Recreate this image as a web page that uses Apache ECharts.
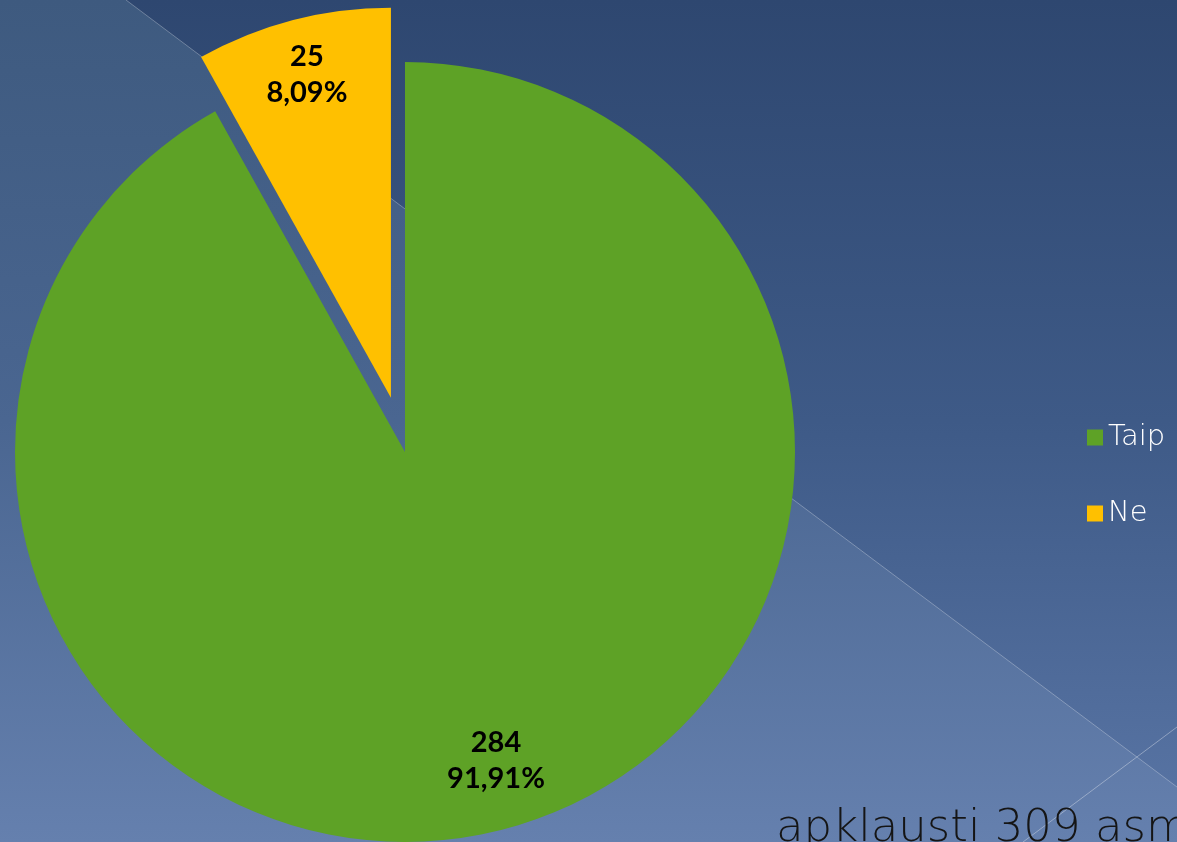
<!DOCTYPE html>
<html>
<head>
<meta charset="utf-8">
<script src="https://cdn.jsdelivr.net/npm/echarts@6/dist/echarts.min.js"></script>
<style>
html,body{margin:0;padding:0;background:#3a5580;}
#chart{width:1177px;height:842px;}
</style>
</head>
<body>
<div id="chart"></div>
<script>
const categories = ['Taip', 'Ne'];
const values = [284, 25];
const colors = ['#5ea226', '#ffc000'];
const footnote = 'apklausti 309 asmenys';

const chart = echarts.init(document.getElementById('chart'), null, {renderer: 'canvas'});
const W = 1177, H = 842;
const data = categories.map((c, i) => ({
  name: c, value: values[i], selected: c === 'Ne',
  itemStyle: {color: colors[i]}
}));
const labelData = categories.map((c, i) => ({
  name: c, value: values[i], selected: c === 'Ne',
  itemStyle: {color: 'rgba(0,0,0,0)'}
}));

const option = {
  animation: false,
  backgroundColor: 'transparent',
  graphic: [
    {type: 'rect', z: -10, silent: true, shape: {x: 0, y: 0, width: W, height: H},
      style: {fill: new echarts.graphic.LinearGradient(0, 0, 0, 1, [
        {offset: 0, color: '#2e4770'}, {offset: 0.5, color: '#3e5a87'}, {offset: 1, color: '#5a76a6'}])}},
    {type: 'polygon', z: -9, silent: true, shape: {points: [[0, 0], [126, 0], [1177, 787], [1177, 842], [0, 842]]},
      style: {fill: new echarts.graphic.LinearGradient(0, 0, 0, 1, [
        {offset: 0, color: '#3e5a7f'}, {offset: 0.5, color: '#4a6691'}, {offset: 1, color: '#6580ae'}])}},
    {type: 'line', z: -8, silent: true, shape: {x1: 126, y1: 0, x2: 1177, y2: 787},
      style: {stroke: 'rgba(255,255,255,0.28)', lineWidth: 1}},
    {type: 'line', z: -8, silent: true, shape: {x1: 1177, y1: 727, x2: 1023, y2: 842},
      style: {stroke: 'rgba(255,255,255,0.35)', lineWidth: 1}},
    {type: 'text', z: 10, silent: true, x: 776, y: 829,
      style: {text: footnote, fill: '#151515', fontSize: 45, fontFamily: '"DejaVu Sans"', fontWeight: 200,
        verticalAlign: 'middle', align: 'left'}}
  ],
  legend: {
    orient: 'vertical', left: 1082, top: 418,
    data: categories,
    icon: 'rect', itemWidth: 16, itemHeight: 16, itemGap: 47, itemTextGap: 9,
    selectedMode: false,
    textStyle: {color: '#ffffff', fontSize: 29, lineHeight: 28, fontFamily: '"DejaVu Sans"', fontWeight: 200}
  },
  series: [
    {
      type: 'pie', center: [405, 452], radius: 390,
      startAngle: 90, clockwise: true,
      selectedMode: 'single', selectedOffset: 56,
      label: {show: false}, labelLine: {show: false},
      emphasis: {disabled: true},
      data: data
    },
    {
      type: 'pie', center: [405, 452], radius: [272, 390],
      startAngle: 90, clockwise: true, silent: true,
      selectedMode: 'single', selectedOffset: 56,
      legendHoverLink: false,
      emphasis: {disabled: true},
      labelLine: {show: false},
      label: {
        show: true, position: 'inside', color: '#000', offset: [7, -15],
        fontFamily: 'Lato', fontWeight: 'bold', fontSize: 29, lineHeight: 36,
        formatter: p => p.value + '\n' + p.percent.toFixed(2).replace('.', ',') + '%'
      },
      data: labelData
    }
  ]
};
chart.setOption(option);
</script>
</body>
</html>
